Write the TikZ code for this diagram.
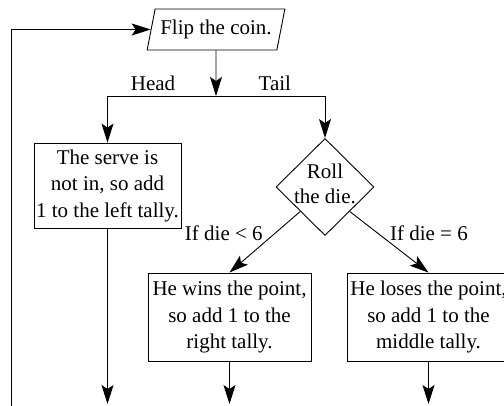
\documentclass[tikz,border=0pt]{standalone}
\usepackage{fontspec}
\setmainfont{Liberation Serif}
\usetikzlibrary{arrows.meta, positioning, shapes.geometric}
\tikzset{
    io/.style = {trapezium, trapezium left angle=69, trapezium right angle=111, trapezium stretches=true, draw, line width=0.9pt, minimum width=138pt, minimum height=41pt, inner sep=0pt},
    proc/.style = {rectangle, draw, line width=0.9pt, align=center, inner sep=0pt},
    decide/.style = {diamond, draw, line width=0.9pt, align=center, minimum width=98pt, minimum height=97pt, inner sep=-6pt, font=\fontsize{21}{25}\selectfont},
    flow/.style = {-{Stealth[length=19pt, width=12pt, inset=4pt]}, line width=0.9pt}
}

\begin{document}
\begin{tikzpicture}[x=1pt, y=-1pt, every node/.style={font=\fontsize{21}{26.5}\selectfont}]
\useasboundingbox (0,0) rectangle (504,405);
% Coin
\node[io] (flip) at (216,29.5) {Flip the coin.};
\coordinate (split) at (216,96);

% Head side
\node[proc, minimum width=147pt, minimum height=85pt] (serve) at (107.5,185.5) {The serve is\\not in, so add\\1 to the left tally.};

% Tail side
\node[decide] (roll) at (325,187) {Roll\\the die.\strut};
\node[proc, minimum width=163pt, minimum height=88pt] (win) at (229.5,317) {He wins the point,\\so add 1 to the\\right tally.};
\node[proc, minimum width=163pt, minimum height=88pt] (lose) at (428.5,317) {He loses the point,\\so add 1 to the\\middle tally.};

% Free ends
\coordinate (serveout) at (107.5,404);
\coordinate (winout) at (229.5,404);
\coordinate (loseout) at (428.5,404);
\coordinate (loop) at (11,410);

% Flip -> branches
\draw[flow] (flip.south) -- (split);
\draw[flow] (split) -| node[pos=0.29, above=2pt] {Head} (serve.north);
\draw[flow] (split) -| node[pos=0.27, above=2pt] {Tail} (roll.north);

% Die -> outcomes
\draw[flow] (roll.south west) -- node[pos=0.35, left, xshift=-9pt] {If die < 6} (win.north);
\draw[flow] (roll.south east) -- node[pos=0.35, right, xshift=9pt] {If die = 6} (lose.north);

% Outgoing
\draw[flow] (serve.south) -- (serveout);
\draw[flow] (win.south) -- (winout);
\draw[flow] (lose.south) -- (loseout);

% Loop back
\draw[flow] (loop) |- (flip.west);
\end{tikzpicture}
\end{document}
